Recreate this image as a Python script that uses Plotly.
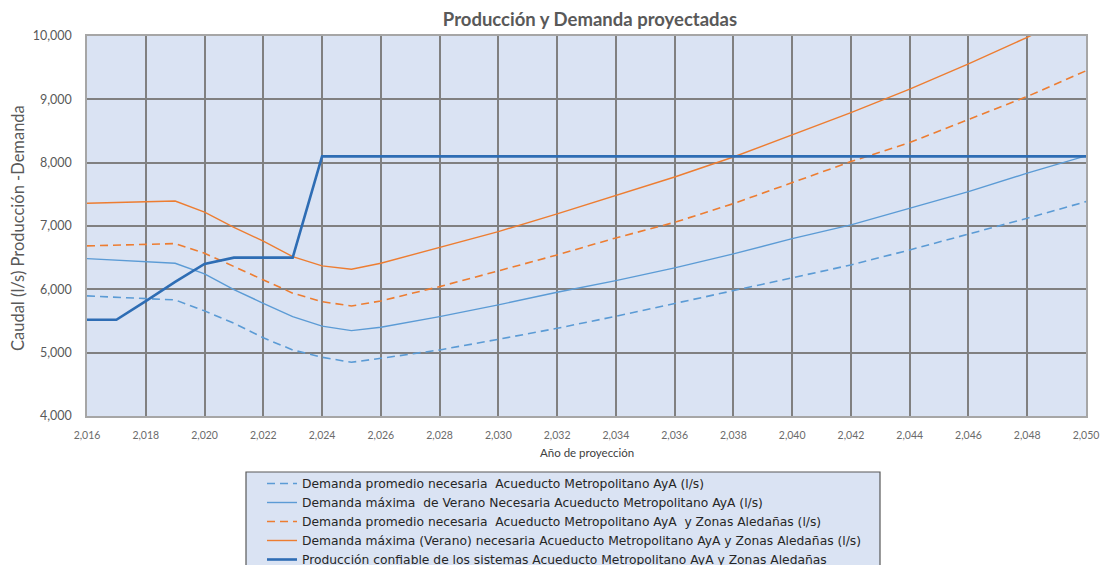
import plotly.graph_objects as go

years = [2016, 2017, 2018, 2019, 2020, 2021, 2022, 2023, 2024, 2025,
         2026, 2028, 2030, 2032, 2034, 2036, 2038, 2040, 2042, 2044, 2046, 2048, 2050]

dem_prom_aya = [5896, 5875, 5854, 5833, 5660, 5465, 5235, 5043, 4927, 4848,
                4911, 5043, 5211, 5385, 5574, 5774, 5984, 6180, 6385, 6622, 6870, 7123, 7385]
dem_max_aya = [6485, 6460, 6436, 6412, 6243, 5995, 5780, 5570, 5420, 5348,
               5401, 5569, 5754, 5954, 6137, 6338, 6559, 6800, 7017, 7280, 7543, 7834, 8107]
dem_prom_zonas = [6686, 6698, 6710, 6722, 6570, 6358, 6150, 5940, 5805, 5737,
                  5817, 6043, 6291, 6543, 6812, 7058, 7353, 7690, 8017, 8318, 8676, 9045, 9450]
dem_max_zonas = [7360, 7372, 7384, 7395, 7220, 6980, 6760, 6517, 6370, 6317,
                 6412, 6659, 6912, 7191, 7479, 7774, 8090, 8440, 8790, 9160, 9560, 9980, 10420]
produccion = [5520, 5520, 5815, 6117, 6400, 6500, 6500, 6500, 8100, 8100,
              8100, 8100, 8100, 8100, 8100, 8100, 8100, 8100, 8100, 8100, 8100, 8100, 8100]

names = [
    "Demanda promedio necesaria  Acueducto Metropolitano AyA (l/s)",
    "Demanda máxima  de Verano Necesaria Acueducto Metropolitano AyA (l/s)",
    "Demanda promedio necesaria  Acueducto Metropolitano AyA  y Zonas Aledañas (l/s)",
    "Demanda máxima (Verano) necesaria Acueducto Metropolitano AyA y Zonas Aledañas (l/s)",
    "Producción confiable de los sistemas Acueducto Metropolitano AyA y Zonas Aledañas",
]

title_text = "Producción y Demanda proyectadas"
x_title = "Año de proyección"
y_title = "Caudal (l/s) Producción -Demanda"

x_ticks = list(range(2016, 2051, 2))
y_ticks = [4000, 5000, 6000, 7000, 8000, 9000, 10000]

BLUE = "#5B9BD5"
ORANGE = "#ED7D31"
DARKBLUE = "#2E6DB4"
FONT = "Lato, 'Open Sans', sans-serif"
W, H = 1101, 565
L, R, T, B = 87, 15, 36, 149
PW, PH = W - L - R, H - T - B

series = [
    (dem_prom_aya, BLUE, "8px,5px", 1.6),
    (dem_max_aya, BLUE, "solid", 1.4),
    (dem_prom_zonas, ORANGE, "8px,5px", 1.6),
    (dem_max_zonas, ORANGE, "solid", 1.4),
    (produccion, DARKBLUE, "solid", 2.6),
]

fig = go.Figure()
for (vals, color, dash, w), name in zip(series, names):
    fig.add_trace(go.Scatter(
        x=years, y=vals, mode="lines", name=name,
        line=dict(color=color, dash=dash, width=w),
    ))

# legend frame (decorative box behind the legend)
fig.add_shape(type="rect", xref="paper", yref="paper",
              x0=(246 - L) / PW, x1=(880 - L) / PW,
              y0=(T + PH - 575) / PH, y1=(T + PH - 472) / PH,
              line=dict(color="#595959", width=1.2), fillcolor="#DAE3F3",
              layer="below")

# axis titles
fig.add_annotation(text=y_title, xref="paper", yref="paper",
                   x=(18 - L) / PW, y=(T + PH - 228) / PH, xanchor="center", yanchor="middle",
                   textangle=-90, showarrow=False,
                   font=dict(size=16.5, color="#595959", family=FONT))
fig.add_annotation(text=x_title, xref="paper", yref="paper",
                   x=(587 - L) / PW, y=(T + PH - 452) / PH, xanchor="center", yanchor="middle",
                   showarrow=False,
                   font=dict(size=11.5, color="#404040", family=FONT))

fig.update_layout(
    width=W, height=H,
    paper_bgcolor="white",
    plot_bgcolor="#DAE3F3",
    margin=dict(l=L, r=R, t=T, b=B, autoexpand=False),
    font=dict(family=FONT, color="#595959"),
    title=dict(
        text="<b>" + title_text + "</b>",
        x=590 / W, xanchor="center", y=1 - 20 / H, yanchor="middle",
        font=dict(size=18.5, color="#595959", family=FONT),
    ),
    xaxis=dict(
        range=[2016, 2050],
        tickvals=x_ticks,
        tickformat=",d",
        showgrid=True, gridcolor="#808080", gridwidth=1.5,
        showline=True, linecolor="#a6a6a6", linewidth=1.5, mirror=True,
        zeroline=False,
        tickfont=dict(size=10.5, color="#6b6b6b", family=FONT),
        ticks="outside", ticklen=9, tickcolor="rgba(0,0,0,0)",
    ),
    yaxis=dict(
        range=[4000, 10000],
        tickvals=y_ticks,
        tickformat=",d",
        showgrid=True, gridcolor="#808080", gridwidth=1.5,
        showline=True, linecolor="#a6a6a6", linewidth=1.5, mirror=True,
        zeroline=False,
        tickfont=dict(size=12.5, color="#595959", family=FONT),
        ticks="outside", ticklen=11, tickcolor="rgba(0,0,0,0)",
    ),
    legend=dict(
        xref="container", yref="container",
        x=262 / W, xanchor="left", y=1 - 469 / H, yanchor="top",
        bgcolor="rgba(0,0,0,0)", borderwidth=0,
        font=dict(size=12.3, color="#262626", family="'DejaVu Sans', sans-serif"),
        tracegroupgap=0, itemwidth=30,
    ),
    showlegend=True,
)

fig.write_html("out.html", config={"displayModeBar": False},
               post_script="document.body.style.margin='0';document.body.style.overflow='hidden';")
